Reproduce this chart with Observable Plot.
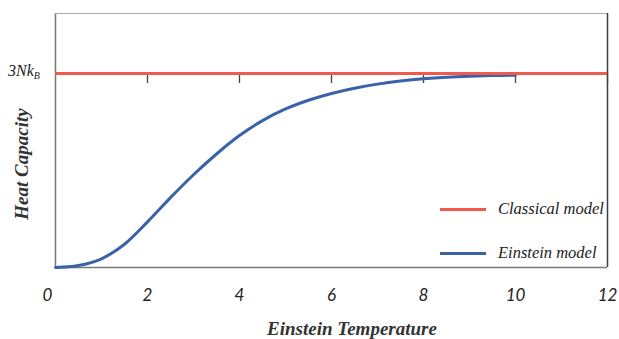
<!DOCTYPE html>
<html><head><meta charset="utf-8">
<script src="https://cdn.jsdelivr.net/npm/d3@7"></script>
<script src="https://cdn.jsdelivr.net/npm/@observablehq/plot@0.6"></script>
<style>
body{margin:0;background:#fff}
#wrap{position:relative;width:619px;height:339px}
.lbl{position:absolute;font-family:"Liberation Serif",serif;font-style:italic;color:#222;white-space:nowrap;line-height:1}
.leg{position:absolute;height:3px}
</style></head><body><div id="wrap"></div>
<script>
// Data (heat capacity in units of 3Nk_B)
const temperature = [0,0.5,1,1.5,2,2.5,3,3.5,4,4.5,5,5.5,6,6.5,7,7.5,8,8.5,9,9.5,10];
const einsteinHeat = [0,0.01,0.045,0.12,0.235,0.36,0.478,0.585,0.68,0.757,0.817,0.862,0.897,0.924,0.945,0.961,0.973,0.981,0.986,0.989,0.991];
const classicalLevel = 1;
const yMax = 1.309;
const xTickValues = [2,4,6,8,10,12];
const xZeroTick = [0];
const lineTickValues = [2,4,6,8,10,12];
const seriesNames = ["Classical model","Einstein model"];
const seriesColors = ["#f25a4f","#3a62a7"];
const xTitle = "Einstein Temperature";
const yTitle = "Heat Capacity";

const data = temperature.map((t,i)=>({t, c: einsteinHeat[i]}));
const axisStyle = {tickSize: 0, tickPadding: 21, fontStyle: "italic", fontSize: 17, label: null, fill: "#222"};

const chart = Plot.plot({
  width: 619, height: 339,
  marginLeft: 55, marginRight: 12, marginTop: 13, marginBottom: 72,
  x: {domain: [0,12]},
  y: {domain: [0,yMax], axis: null},
  style: {fontFamily: "Lato, sans-serif", fontSize: "17px", color: "#222", background: "#fff"},
  marks: [
    Plot.ruleX([0], {stroke: "#777", strokeWidth: 1.5}),
    Plot.ruleY([0], {stroke: "#777", strokeWidth: 1.5}),
    Plot.ruleY([yMax], {stroke: "#aaa", strokeWidth: 1.2}),
    Plot.ruleX([12], {stroke: "#3d3d48", strokeWidth: 1.5}),
    Plot.ruleX(lineTickValues, {y1: classicalLevel, y2: classicalLevel - 0.052, stroke: "#444", strokeWidth: 1.3}),
    Plot.line(data, {x: "t", y: "c", stroke: seriesColors[1], strokeWidth: 3, curve: "catmull-rom"}),
    Plot.ruleY([classicalLevel], {stroke: seriesColors[0], strokeWidth: 3}),
    Plot.axisX(xTickValues, axisStyle),
    Plot.axisX(xZeroTick, {...axisStyle, dx: -8})
  ]
});
const wrap = document.getElementById("wrap");
wrap.appendChild(chart);

function addLabel(html, left, top, size, extra) {
  const d = document.createElement("div");
  d.className = "lbl";
  d.innerHTML = html;
  d.style.left = left + "px";
  d.style.top = top + "px";
  d.style.fontSize = size + "px";
  if (extra) Object.assign(d.style, extra);
  wrap.appendChild(d);
  return d;
}
// axis titles
addLabel(xTitle, 352, 328, 19, {fontWeight: "bold", transform: "translate(-50%,-50%)", color: "#333"});
addLabel(yTitle, 21, 164, 19, {fontWeight: "bold", transform: "translate(-50%,-50%) rotate(-90deg)", color: "#333"});
// y label at classical level
addLabel("3Nk<sub style='font-size:10px;vertical-align:-3px'>B</sub>", 8, 72, 16, {transform: "translateY(-50%)"});
// legend
[209, 253].forEach((y, i) => {
  const l = document.createElement("div");
  l.className = "leg";
  l.style.left = "440px"; l.style.width = "46px"; l.style.top = (y - 1.5) + "px";
  l.style.background = seriesColors[i];
  wrap.appendChild(l);
  addLabel(seriesNames[i], 498, y, 16.5, {transform: "translateY(-50%)"});
});
</script></body></html>
